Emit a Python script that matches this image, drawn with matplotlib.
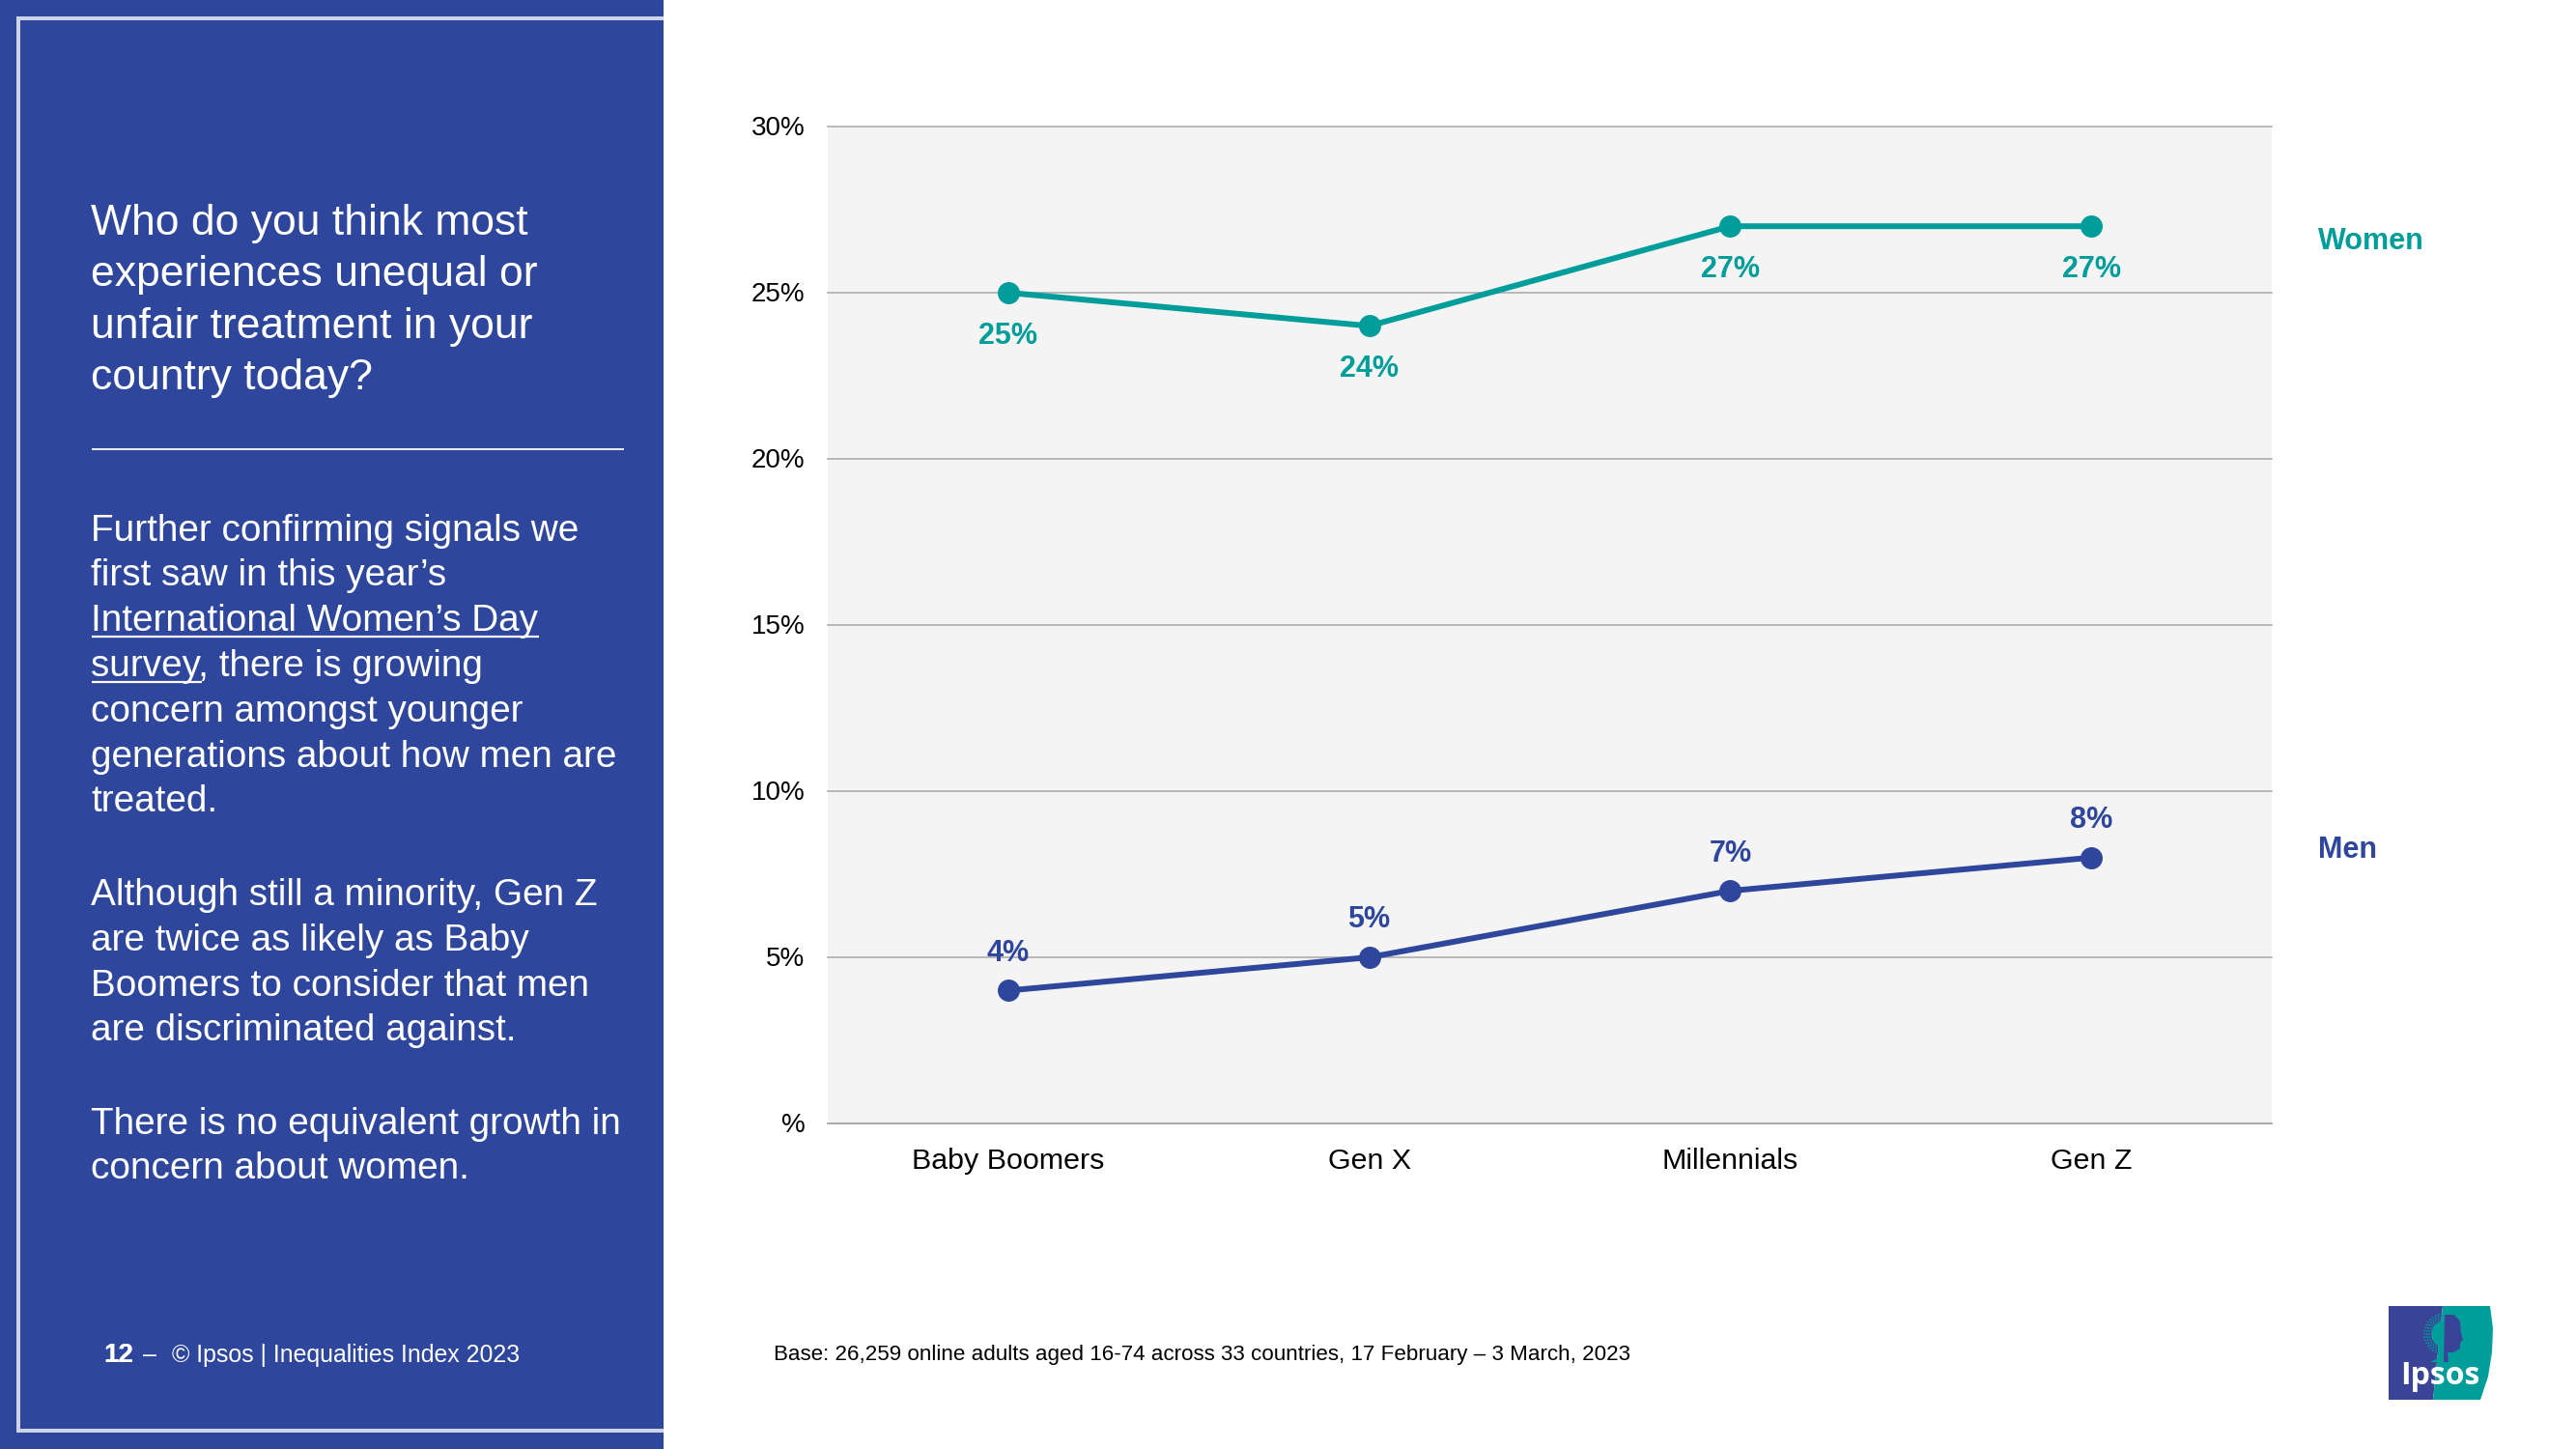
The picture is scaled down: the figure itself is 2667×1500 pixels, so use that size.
import math
import matplotlib
matplotlib.use("Agg")
import matplotlib.pyplot as plt
from matplotlib.patches import Polygon, Rectangle, Circle, Wedge
from matplotlib.ticker import FixedLocator
from matplotlib.transforms import ScaledTranslation

plt.rcParams['font.family'] = ['Liberation Sans', 'DejaVu Sans']

categories = ["Baby Boomers", "Gen X", "Millennials", "Gen Z"]
women = [25, 24, 27, 27]
men = [4, 5, 7, 8]
y_ticks = [0, 5, 10, 15, 20, 25, 30]
y_tick_labels = ["%", "5%", "10%", "15%", "20%", "25%", "30%"]

title_lines = ["Who do you think most", "experiences unequal or",
               "unfair treatment in your", "country today?"]
body_lines = [
    ("Further confirming signals we", 0), ("first saw in this year’s", 0),
    ("International Women’s Day", 1), ("survey, there is growing", 2),
    ("concern amongst younger", 0), ("generations about how men are", 0),
    ("treated.", 0),
    ("Although still a minority, Gen Z", 0), ("are twice as likely as Baby", 0),
    ("Boomers to consider that men", 0), ("are discriminated against.", 0),
    ("There is no equivalent growth in", 0), ("concern about women.", 0),
]
base_note = "Base: 26,259 online adults aged 16-74 across 33 countries, 17 February – 3 March, 2023"
footer = "© Ipsos | Inequalities Index 2023"

BLUE = "#2E469C"
TEAL = "#009D9A"
LOGO_BLUE = "#3A4496"
W, H = 2667, 1500

fig = plt.figure(figsize=(W / 100, H / 100), dpi=100, facecolor="white")

# page-level overlay in pixel coordinates
bg = fig.add_axes([0, 0, 1, 1], zorder=0)
bg.set_xlim(0, W)
bg.set_ylim(H, 0)
bg.axis("off")

bg.add_patch(Rectangle((0, 0), 687, H, fc=BLUE, ec="none"))
FRAME = "#CDD3E8"
bg.add_patch(Rectangle((17, 17), 670, 4, fc=FRAME, ec="none"))
bg.add_patch(Rectangle((17, 17), 4, 1466, fc=FRAME, ec="none"))
bg.add_patch(Rectangle((17, 1479), 670, 4, fc=FRAME, ec="none"))
bg.add_patch(Rectangle((95, 464), 551, 2.2, fc="#E8EAF4", ec="none"))

TX = 94.5
title_baselines = [243, 296, 350, 403]
for line, yb in zip(title_lines, title_baselines):
    bg.text(TX, yb, line, color="white", fontsize=32, va="baseline", ha="left")

body_baselines = [560, 606, 653, 700, 747, 794, 840, 937, 984, 1031, 1077, 1174, 1220]
fig.canvas.draw()
rend = fig.canvas.get_renderer()
for (line, ul), yb in zip(body_lines, body_baselines):
    bg.text(TX, yb, line, color="white", fontsize=27.9, va="baseline", ha="left")
    if ul:
        s = line if ul == 1 else "survey"
        t = bg.text(TX, yb, s, fontsize=27.9, alpha=0)
        wpx = t.get_window_extent(rend).width
        t.remove()
        bg.plot([TX, TX + wpx], [yb + 6, yb + 6], color="white", lw=1.6, solid_capstyle="butt")

bg.text(107, 1410, "12", color="white", fontsize=20, fontweight="bold", va="baseline")
bg.text(107.6, 1410, "12", color="white", fontsize=20, fontweight="bold", va="baseline")
bg.text(148, 1410, "–", color="white", fontsize=18, va="baseline")
bg.text(178, 1410, footer, color="white", fontsize=17.95, va="baseline")
bg.text(801, 1408, base_note, color="black", fontsize=16.15, va="baseline")

# logo
bg.add_patch(Polygon([(2473, 1352), (2529, 1352), (2519, 1449), (2473, 1449)], fc=LOGO_BLUE, ec="none"))
bg.add_patch(Polygon([(2529, 1352), (2578, 1352), (2581, 1375), (2580, 1400), (2576, 1425),
                      (2568, 1449), (2519, 1449)], fc=TEAL, ec="none"))
cx, cy = 2531, 1381
bg.add_patch(Wedge((cx, cy), 14, 90, 270, fc=TEAL, ec="none"))
for r, n in [(16, 16), (18.5, 18), (21, 20)]:
    for i in range(n + 1):
        a = math.pi / 2 + math.pi * i / n
        bg.add_patch(Circle((cx + r * math.cos(a), cy - r * math.sin(a)), 0.9, fc=TEAL, ec="none"))
bg.add_patch(Polygon([(2516, 1410), (2526, 1405), (2531, 1395), (2531, 1365), (2534, 1410)], fc=TEAL, ec="none"))
bg.add_patch(Polygon([(2531, 1361), (2541, 1361), (2547, 1368), (2548, 1380), (2550, 1387),
                      (2547, 1390), (2547, 1396), (2540, 1400), (2534, 1400), (2535, 1410), (2530, 1410)],
                     fc=LOGO_BLUE, ec="none"))
bg.text(2526, 1433, "Ipsos", color="white", fontsize=23, fontweight="bold",
        family="Open Sans", ha="center", va="baseline")

# chart
ax = fig.add_axes([857 / W, 1 - 1163 / H, (2352 - 857) / W, (1163 - 131) / H], zorder=1)
ax.set_facecolor("#F4F4F4")
x = list(range(len(categories)))
ax.set_xlim(-0.5, 3.5)
ax.set_ylim(0, 30)
ax.yaxis.set_major_locator(FixedLocator(y_ticks))
ax.set_yticklabels(y_tick_labels)
ax.set_xticks(x)
ax.set_xticklabels(categories)
ax.tick_params(axis="both", length=0, labelsize=20, labelcolor="black")
ax.tick_params(axis="y", pad=17)
ax.tick_params(axis="x", pad=18, labelsize=21.9)
ax.grid(axis="y", color="#A6A6A6", lw=1.1)
ax.set_axisbelow(True)
for gl in ax.get_ygridlines():
    gl.set_clip_on(False)
for lab in ax.get_yticklabels():
    lab.set_transform(lab.get_transform() + ScaledTranslation(0, 1.2 / 100, fig.dpi_scale_trans))
for s in ["left", "right", "top"]:
    ax.spines[s].set_visible(False)
ax.spines["bottom"].set_color("#A6A6A6")
ax.spines["bottom"].set_linewidth(1.1)

for vals, col, off in [(women, TEAL, -32.3), (men, BLUE, 27.8)]:
    ax.plot(x, vals, color=col, lw=4.3, marker="o", ms=15.5, clip_on=False, zorder=3)
    for xi, v in zip(x, vals):
        ax.annotate(f"{v}%", (xi, v), xytext=(0, off), textcoords="offset points",
                    ha="center", va="center", color=col, fontsize=22, fontweight="bold", zorder=4)

bg.text(2400, 250.5, "Women", color=TEAL, fontsize=22, fontweight="bold", va="center")
bg.text(2400, 879.5, "Men", color=BLUE, fontsize=22, fontweight="bold", va="center")

fig.savefig("out.png", dpi=100)
